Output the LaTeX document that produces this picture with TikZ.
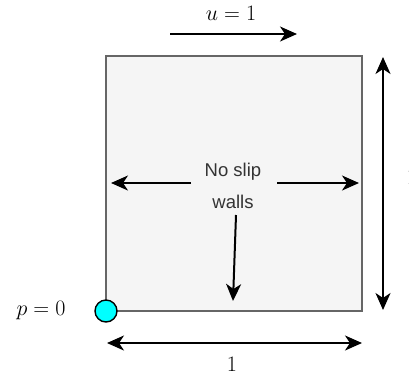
\documentclass[tikz,border=0pt]{standalone}
\usepackage{fix-cm}
\usepackage{fontspec}
\setsansfont{Liberation Sans}
\usetikzlibrary{arrows.meta}
\definecolor{boxfill}{HTML}{F5F5F5}
\definecolor{boxline}{HTML}{666666}
\definecolor{txt}{HTML}{333333}
\definecolor{ptcyan}{HTML}{00FFFF}
\tikzset{
  tipstyle/.style={Stealth[length=17pt,width=15pt,inset=5pt]},
  dimarrow/.style={line width=2pt, -{Stealth[length=17pt,width=15pt,inset=5pt]}},
  dimboth/.style={line width=2pt, {Stealth[length=17pt,width=15pt,inset=5pt]}-{Stealth[length=17pt,width=15pt,inset=5pt]}},
  mathlbl/.style={font=\fontsize{22}{26}\selectfont, inner sep=0pt},
  walltxt/.style={font=\sffamily\fontsize{18.5}{32}\selectfont, text=txt, align=center, inner sep=0pt},
}
\begin{document}
\begin{tikzpicture}[x=1pt,y=-1pt]
\useasboundingbox (0,0) rectangle (409,381);
% cavity
\node[draw=boxline, fill=boxfill, line width=1.5pt, minimum width=256pt, minimum height=255pt, inner sep=0pt] (cav) at (234,183.5) {};
% lid velocity
\coordinate (u0) at (170,34);
\coordinate (u1) at (297,34);
\draw[dimarrow] (u0) -- (u1);
\node[mathlbl] (ulbl) at (231,13) {$u=1$};
% no slip text
\node[walltxt] (ns) at (233,186) {No slip\\walls};
\coordinate (la) at (191,183);
\coordinate (lt) at (111,183);
\coordinate (ra) at (277,183);
\coordinate (rt) at (359,183);
\coordinate (da) at (236,215);
\coordinate (dt) at (233,301);
\draw[dimarrow] (la) -- (lt);
\draw[dimarrow] (ra) -- (rt);
\draw[dimarrow] (da) -- (dt);
% height dimension
\coordinate (h0) at (383,57);
\coordinate (h1) at (383,310);
\draw[dimboth] (h0) -- (h1);
\node[mathlbl] (hlbl) at (412,177) {$1$};
% width dimension
\coordinate (w0) at (107,343);
\coordinate (w1) at (362,343);
\draw[dimboth] (w0) -- (w1);
\node[mathlbl] (wlbl) at (232,364) {$1$};
% pressure point
\node[circle, draw=black, fill=ptcyan, line width=1.4pt, minimum size=22pt, inner sep=0pt] (p0) at (106,311) {};
\node[mathlbl] (plbl) at (41,311) {$p=0$};
\end{tikzpicture}
\end{document}
